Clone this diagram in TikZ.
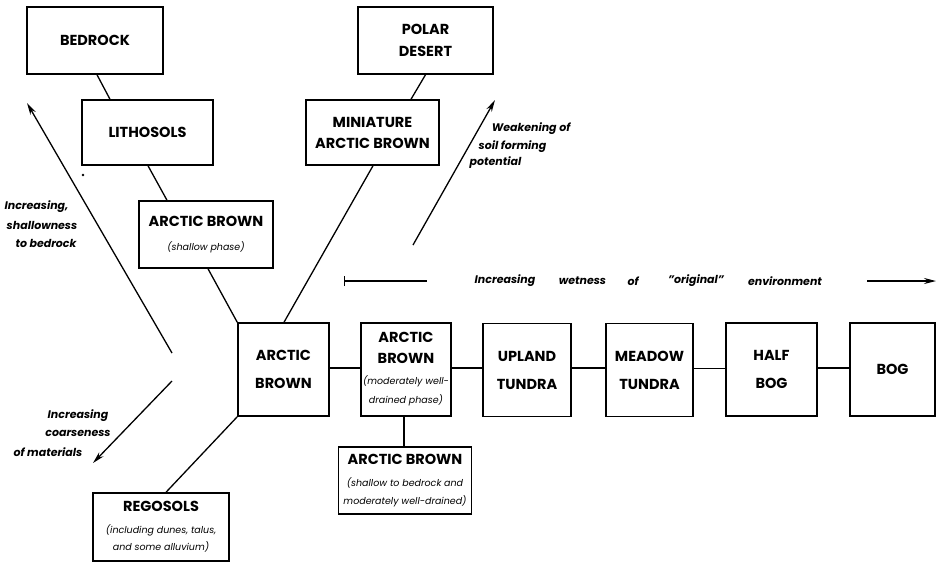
\documentclass[tikz,border=0pt]{standalone}
\usepackage{fontspec}
\setmainfont{Poppins}
\usetikzlibrary{arrows.meta}
\newcommand{\boxtitle}{\bfseries\fontsize{14.5}{22}\selectfont}
\newcommand{\boxnote}{\mdseries\itshape\fontsize{9.5}{12}\selectfont}
\newcommand{\lblfont}{\bfseries\itshape\fontsize{11}{13}\selectfont}
\tikzset{
  box/.style={draw, line width=1.5pt, inner sep=0pt, align=center, font=\boxtitle},
  link/.style={line width=1.3pt},
  trend/.style={line width=1.3pt, -{Stealth[length=12pt,width=6pt]}},
  lbl/.style={font=\lblfont, inner sep=0pt, anchor=center}
}
\begin{document}
\begin{tikzpicture}[x=1pt,y=-1pt]
\useasboundingbox (0,0) rectangle (937,566);
% boxes
\node (bed)   [box, minimum width=136pt, minimum height=67pt] at (95,40.5) {BEDROCK};
\node (lith)  [box, minimum width=131pt, minimum height=65pt] at (147.5,132.5) {LITHOSOLS};
\node (abs)   [box, minimum width=134pt, minimum height=67pt] at (206,234.5) {ARCTIC BROWN\\[2pt]{\boxnote (shallow phase)}};
\node (polar) [box, minimum width=135pt, minimum height=67pt] at (425.5,40.5) {POLAR\\DESERT};
\node (mini)  [box, minimum width=133pt, minimum height=65pt] at (372.5,132.5) {MINIATURE\\[-1pt]ARCTIC BROWN};
\node (abm)   [box, minimum width=91pt, minimum height=93pt] at (283.5,369.5) {ARCTIC\\[6pt]BROWN};
\node (abmod) [box, minimum width=90pt, minimum height=93pt] at (406,369.5) {ARCTIC\\[-1pt]BROWN\\[-1pt]{\boxnote (moderately well-}\\[-3pt]{\boxnote drained phase)}};
\node (upl)   [box, minimum width=88pt, minimum height=93pt] at (527,370) {UPLAND\\[6pt]TUNDRA};
\node (mead)  [box, minimum width=87pt, minimum height=93pt] at (649.5,370) {MEADOW\\[6pt]TUNDRA};
\node (half)  [box, minimum width=91pt, minimum height=93pt] at (771.5,369.5) {HALF\\[6pt]BOG};
\node (bog)   [box, minimum width=85pt, minimum height=93pt] at (892.5,369.5) {BOG};
\node (bot)   [box, minimum width=133pt, minimum height=67pt] at (405,480.5) {ARCTIC BROWN\\{\boxnote (shallow to bedrock and}\\[-4pt]{\boxnote moderately well-drained)}};
\node (reg)   [box, minimum width=136pt, minimum height=68pt] at (161,527) {REGOSOLS\\{\boxnote (including dunes, talus,}\\[-5pt]{\boxnote and some alluvium)}};
% connectors
\draw[link] ([xshift=2pt]bed.south) -- ([xshift=-37.5pt]lith.north);
\draw[link] ([xshift=0.5pt]lith.south) -- ([xshift=-39pt]abs.north);
\draw[link] ([xshift=2pt]abs.south) -- (abm.north west);
\draw[link] (polar.south) -- ([xshift=38.5pt]mini.north);
\draw[link] ([xshift=0.5pt]mini.south) -- ([xshift=0.5pt]abm.north);
\draw[link] (abm.south west) -- ([xshift=5pt]reg.north);
\draw[link] ([yshift=1.5pt]abm.east) -- ([yshift=1.5pt]abmod.west);
\draw[link] ([yshift=1.5pt]abmod.east) -- ([yshift=1.5pt]abmod.east -| upl.west);
\draw[link] ([yshift=2pt]upl.east) -- ([yshift=2pt]upl.east -| mead.west);
\draw[link] ([yshift=1.5pt]mead.east) -- ([yshift=1.5pt]mead.east -| half.west);
\draw[link] ([yshift=1.5pt]half.east) -- ([yshift=1.5pt]half.east -| bog.west);
\draw[link] ([xshift=-2pt]abmod.south) -- ([xshift=-2pt]abmod.south |- bot.north);
% trend arrows
\coordinate (sh0) at (172,353); \coordinate (sh1) at (27,103);
\coordinate (co0) at (172,381); \coordinate (co1) at (93,463);
\coordinate (wk0) at (413,245); \coordinate (wk1) at (495,100);
\coordinate (we0) at (344,281); \coordinate (we1) at (427,281);
\coordinate (we2) at (867,281); \coordinate (we3) at (936,281);
\draw[trend] (sh0) -- (sh1);
\draw[trend] (co0) -- (co1);
\draw[trend] (wk0) -- (wk1);
\draw[line width=1.3pt, {Bar[width=10pt]}-] (we0) -- (we1);
\draw[trend] (we2) -- (we3);
\fill (83,175) circle (1.3pt);
% labels
\node (l1) [lbl] at (36.5,207) {Increasing,};
\node (l2) [lbl] at (42,225) {shallowness};
\node (l3) [lbl] at (46,243) {to bedrock};
\node (l4) [lbl] at (78,416) {Increasing};
\node (l5) [lbl] at (78,433) {coarseness};
\node (l6) [lbl] at (48,452) {of materials};
\node (l7) [lbl] at (531,129) {Weakening of};
\node (l8) [lbl] at (512.5,147) {soil forming};
\node (l9) [lbl] at (495.5,163) {potential};
\node (w1) [lbl] at (505,281) {Increasing};
\node (w2) [lbl] at (582.5,281) {wetness};
\node (w3) [lbl] at (633,281) {of};
\node (w4) [lbl] at (696,281) {"original"};
\node (w5) [lbl] at (785,281) {environment};
\end{tikzpicture}
\end{document}
